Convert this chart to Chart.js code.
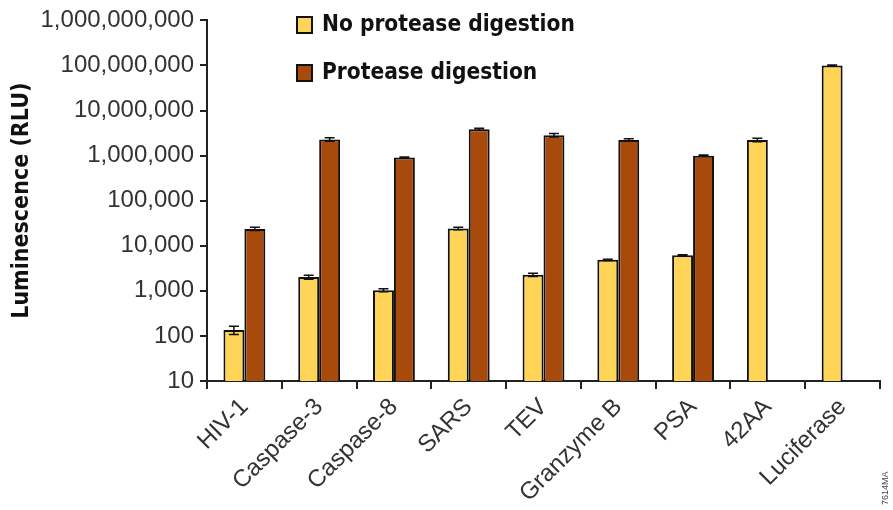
<!DOCTYPE html>
<html>
<head>
<meta charset="utf-8">
<script src="https://cdn.jsdelivr.net/npm/chart.js@4.4.1/dist/chart.umd.min.js"></script>
<style>
  html, body { margin: 0; padding: 0; background: #fff; }
  #wrap { position: relative; width: 893px; height: 510px; }
  #stamp {
    position: absolute; left: 880px; top: 505px;
    font: 9px "Liberation Sans", Arial, sans-serif; color: #444;
    transform: rotate(-90deg); transform-origin: left top;
    white-space: nowrap;
  }
</style>
</head>
<body>
<div id="wrap">
  <canvas id="chart" width="893" height="510"></canvas>
  <div id="stamp">7614MA</div>
</div>
<script>
// ---- data ----
const categories = ['HIV-1', 'Caspase-3', 'Caspase-8', 'SARS', 'TEV', 'Granzyme B', 'PSA', '42AA', 'Luciferase'];
const noProtease = [135, 2020, 1030, 24200, 2270, 4870, 6190, 2230000, 100000000];
const noProteaseErr = [28, 200, 80, 1500, 200, 150, 100, 200000, 3000000];
const protease = [23700, 2280000, 906000, 3850000, 2830000, 2230000, 1000000, null, null];
const proteaseErr = [2000, 200000, 30000, 200000, 250000, 150000, 30000, null, null];
const yTicks = [10, 100, 1000, 10000, 100000, 1000000, 10000000, 100000000, 1000000000];
const seriesNames = ['No protease digestion', 'Protease digestion'];

const YELLOW = '#FFD457';
const BROWN = '#A84A0C';
const AXIS = '#222';
const NARROW = '"Liberation Sans Narrow", "DejaVu Sans Condensed", "Liberation Sans", sans-serif';
const PLAIN = '"Liberation Sans", Arial, sans-serif';

// error bars drawn through the y scale
const errorBars = {
  id: 'errorBars',
  afterDatasetsDraw(chart) {
    const ctx = chart.ctx;
    const y = chart.scales.y;
    chart.data.datasets.forEach((ds, i) => {
      const meta = chart.getDatasetMeta(i);
      meta.data.forEach((bar, j) => {
        const v = ds.data[j], e = ds.errors[j];
        if (v == null || e == null) return;
        const top = y.getPixelForValue(v + e);
        const bot = y.getPixelForValue(v - e);
        ctx.save();
        ctx.strokeStyle = '#111';
        ctx.lineWidth = 1.5;
        ctx.beginPath();
        ctx.moveTo(bar.x, top); ctx.lineTo(bar.x, bot);
        ctx.moveTo(bar.x - 5, top); ctx.lineTo(bar.x + 5, top);
        ctx.moveTo(bar.x - 5, bot); ctx.lineTo(bar.x + 5, bot);
        ctx.stroke();
        ctx.restore();
      });
    });
  }
};

// legend drawn in the upper area
const sideLegend = {
  id: 'sideLegend',
  afterDraw(chart) {
    const ctx = chart.ctx;
    const colors = [YELLOW, BROWN];
    ctx.save();
    seriesNames.forEach((name, i) => {
      const top = 17 + i * 48;
      ctx.fillStyle = colors[i];
      ctx.fillRect(297, top, 15, 16);
      ctx.strokeStyle = '#111';
      ctx.lineWidth = 2;
      ctx.strokeRect(297, top, 15, 16);
      ctx.fillStyle = '#111';
      ctx.font = 'bold 22.5px ' + NARROW;
      ctx.textBaseline = 'middle';
      ctx.fillText(name, 322, top + 8);
    });
    ctx.restore();
  }
};

new Chart(document.getElementById('chart'), {
  type: 'bar',
  data: {
    labels: categories,
    datasets: [
      { label: seriesNames[0], data: noProtease, errors: noProteaseErr,
        backgroundColor: YELLOW, borderColor: '#111', borderWidth: 2 },
      { label: seriesNames[1], data: protease, errors: proteaseErr,
        backgroundColor: BROWN, borderColor: '#111', borderWidth: 2 }
    ]
  },
  options: {
    responsive: false,
    animation: false,
    layout: { padding: { top: 20, right: 13, left: 0, bottom: 0 } },
    datasets: { bar: { categoryPercentage: 0.56, barPercentage: 1.0 } },
    plugins: { legend: { display: false }, tooltip: { enabled: false } },
    scales: {
      x: {
        grid: { offset: true, drawOnChartArea: false, color: AXIS, lineWidth: 2, tickLength: 8 },
        border: { color: AXIS, width: 2 },
        ticks: { color: '#333', font: { family: PLAIN, size: 24 }, maxRotation: 45, minRotation: 45, padding: 4 },
        afterFit(s) { s.height = 129; }
      },
      y: {
        type: 'logarithmic',
        min: 10,
        max: 1000000000,
        afterBuildTicks(s) { s.ticks = yTicks.map(v => ({ value: v })); },
        grid: { drawOnChartArea: false, color: AXIS, lineWidth: 2, tickLength: 7 },
        border: { color: AXIS, width: 2 },
        ticks: {
          color: '#333', font: { family: PLAIN, size: 24 }, padding: 6,
          callback: v => Number(v).toLocaleString('en-US')
        },
        title: {
          display: true, text: 'Luminescence (RLU)', color: '#111',
          font: { family: NARROW, size: 23, weight: 'bold' }, padding: { top: 8, bottom: 0 }
        },
        afterFit(s) { s.width = 207; }
      }
    }
  },
  plugins: [errorBars, sideLegend]
});
</script>
</body>
</html>
